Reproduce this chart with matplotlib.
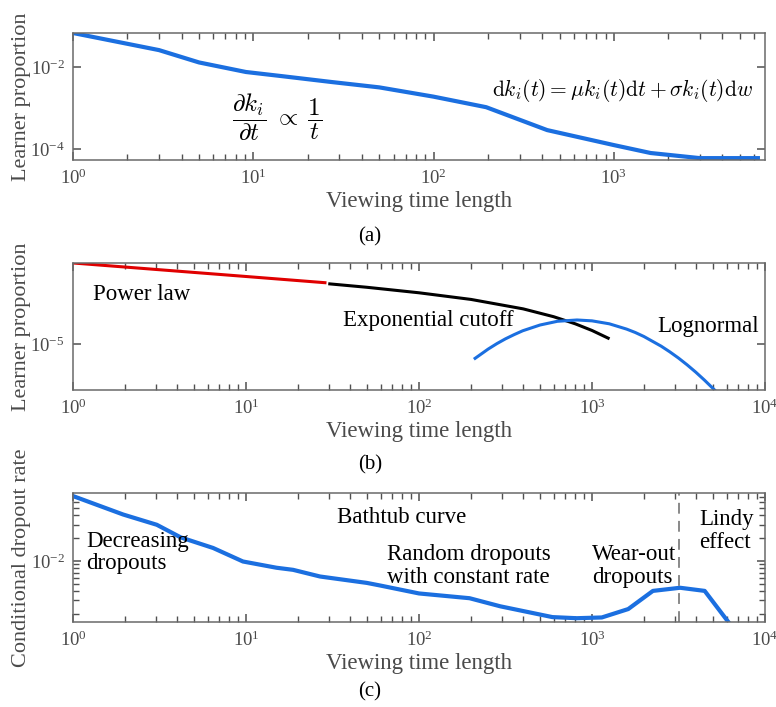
import matplotlib
matplotlib.use("Agg")
import matplotlib.pyplot as plt
import numpy as np
from matplotlib.ticker import NullFormatter, LogLocator, NullLocator, FixedLocator

plt.rcParams['font.family'] = ['Liberation Serif', 'DejaVu Serif']
plt.rcParams['mathtext.fontset'] = 'cm'

# (a) learner proportion vs viewing time
t_a = [1, 1.39, 3.0, 5.0, 9.1, 14.5, 27.5, 50, 100, 196, 427, 1000, 1600, 3000, 6300]
p_a = [0.068, 0.051, 0.026, 0.013, 0.0076, 0.0060, 0.0043, 0.0032, 0.0019, 0.00105,
       2.9e-4, 1.25e-4, 8.0e-5, 6.0e-5, 6.0e-5]

# (b) fitted curves
t_pow = [1, 3, 10, 28.6]
p_pow = [7.82e-5, 6.64e-5, 5.55e-5, 4.74e-5]
t_exp = [30.5, 50, 100, 200, 400, 600, 800, 1000, 1240]
p_exp = [4.60e-5, 4.22e-5, 3.67e-5, 3.10e-5, 2.44e-5, 2.00e-5, 1.67e-5, 1.41e-5, 1.16e-5]
t_logn = [211, 251, 282, 316, 355, 398, 501, 631, 819, 1000, 1259, 1585, 1778, 1995, 2512,
          2818, 3162, 3548, 3981, 4467, 5140]
p_logn = [6.95e-6, 8.79e-6, 1.01e-5, 1.14e-5, 1.27e-5, 1.40e-5, 1.62e-5, 1.78e-5, 1.84e-5,
          1.80e-5, 1.67e-5, 1.46e-5, 1.34e-5, 1.21e-5, 9.46e-6, 8.19e-6, 7.0e-6, 5.89e-6,
          4.89e-6, 4.0e-6, 3.08e-6]

# (c) conditional dropout rate
t_c = [1, 1.95, 3.05, 4.2, 6.45, 9.6, 15, 18.7, 26.8, 50, 60, 100, 196, 295, 590, 815,
       1140, 1620, 2250, 3230, 4480, 6140]
r_c = [0.072, 0.041, 0.030, 0.0204, 0.0148, 0.0098, 0.0081, 0.0076, 0.0062, 0.0051, 0.0047,
       0.0037, 0.0032, 0.0025, 0.0018, 0.00174, 0.00178, 0.0023, 0.0040, 0.0044, 0.0040, 0.00155]
lindy_t = 3185

blue = '#1b6fe0'
grey = '#4a4a4a'
W, H = 776, 707

fig = plt.figure(figsize=(7.76, 7.07), dpi=100)


def make_ax(top, bottom):
    ax = fig.add_axes([73 / W, 1 - bottom / H, (765 - 73) / W, (bottom - top) / H])
    ax.set_xscale('log')
    ax.set_yscale('log')
    for s in ax.spines.values():
        s.set_color('#6a6a6a')
        s.set_linewidth(1.1)
    ax.tick_params(which='both', direction='in', top=True, right=True,
                   colors='#505050', labelcolor=grey, labelsize=13.5)
    ax.tick_params(which='major', length=6, width=1.1, pad=6)
    ax.tick_params(which='minor', length=4, width=1.0)
    ax.xaxis.set_minor_locator(LogLocator(base=10, subs=np.arange(2, 10), numticks=100))
    ax.xaxis.set_minor_formatter(NullFormatter())
    ax.set_xlabel('Viewing time length', fontsize=16.5, color=grey, labelpad=2)
    return ax


# ---- (a)
ax1 = make_ax(33, 160)
ax1.plot(t_a, p_a, color=blue, lw=3)
ax1.set_xlim(1, 6900)
ax1.set_ylim(5.4e-5, 0.068)
ax1.yaxis.set_major_locator(FixedLocator([1e-4, 1e-2]))
ax1.yaxis.set_minor_locator(NullLocator())
ax1.set_ylabel('Learner proportion', fontsize=16, color=grey)
ax1.text(7.6, 6.0e-4, r'$\dfrac{\partial k_i}{\partial t}\;\propto\;\dfrac{1}{t}$',
         fontsize=18, va='center', ha='left')
ax1.text(5900, 2.75e-3, r'$\mathrm{d}k_i(t)=\mu k_i(t)\mathrm{d}t+\sigma k_i(t)\mathrm{d}w$',
         fontsize=15.5, va='center', ha='right')
fig.text(370 / W, 1 - 237 / H, '(a)', fontsize=15, ha='center', va='center')

# ---- (b)
ax2 = make_ax(263, 390)
ax2.plot(t_pow, p_pow, color='#e00000', lw=2.2)
ax2.plot(t_exp, p_exp, color='black', lw=2.2)
ax2.plot(t_logn, p_logn, color=blue, lw=2.2)
ax2.set_xlim(1, 1e4)
ax2.set_ylim(10 ** -5.507, 10 ** -4.107)
ax2.yaxis.set_major_locator(FixedLocator([1e-5]))
ax2.yaxis.set_minor_locator(NullLocator())
ax2.set_ylabel('Learner proportion', fontsize=16, color=grey)
ax2.text(1.3, 10 ** -4.449, 'Power law', fontsize=16.5, va='center', ha='left')
ax2.text(36.4, 10 ** -4.746, 'Exponential cutoff', fontsize=16.5, va='center', ha='left')
ax2.text(9230, 10 ** -4.802, 'Lognormal', fontsize=16.5, va='center', ha='right')
fig.text(370 / W, 1 - 465 / H, '(b)', fontsize=15, ha='center', va='center')

# ---- (c)
ax3 = make_ax(493, 622)
ax3.plot(t_c, r_c, color=blue, lw=3)
ax3.axvline(lindy_t, color='#808080', lw=1.3, ls=(0, (6, 4)))
ax3.set_xlim(1, 1e4)
ax3.set_ylim(1.55e-3, 0.079)
ax3.yaxis.set_major_locator(FixedLocator([1e-2]))
ax3.yaxis.set_minor_locator(LogLocator(base=10, subs=np.arange(2, 10), numticks=100))
ax3.yaxis.set_minor_formatter(NullFormatter())
ax3.set_ylabel('Conditional dropout rate', fontsize=16, color=grey)
ax3.text(1.19, 0.0129, 'Decreasing\ndropouts', fontsize=16.5, va='center', ha='left',
         linespacing=1.1)
ax3.text(33.6, 0.037, 'Bathtub curve', fontsize=16.5, va='center', ha='left')
ax3.text(65, 0.0086, 'Random dropouts\nwith constant rate', fontsize=16.5, va='center',
         ha='left', linespacing=1.1)
ax3.text(1000, 0.0086, 'Wear-out\ndropouts', fontsize=16.5, va='center', ha='left',
         linespacing=1.1)
ax3.text(4150, 0.025, 'Lindy\neffect', fontsize=16.5, va='center', ha='left',
         linespacing=1.1)
fig.text(370 / W, 1 - 692 / H, '(c)', fontsize=15, ha='center', va='center')

for ax in (ax1, ax2, ax3):
    ax.yaxis.set_label_coords(-0.06, 0.5)

fig.savefig('out.png', dpi=100)
